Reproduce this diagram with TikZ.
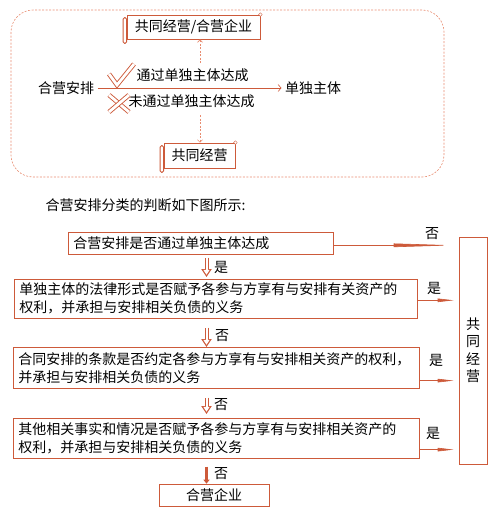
\documentclass[tikz,border=0pt]{standalone}
\usepackage{fontspec}
\setmainfont{Noto Sans CJK SC}
\usetikzlibrary{arrows.meta}
\definecolor{accent}{RGB}{205,90,58}
\definecolor{softacc}{RGB}{232,140,112}
\tikzset{
  qbox/.style={draw=accent, semithick, anchor=north west, align=left, inner xsep=5pt, inner ysep=0pt},
  scroll/.style={draw=accent, thick, fill=white, inner sep=3pt},
  dasharrow/.style={draw=softacc, semithick, dash pattern=on 2pt off 1.5pt, -{Straight Barb[length=2.5pt,width=5pt]}},
  checkline/.style={draw=accent, line width=0.9pt, double=white, double distance=2.8pt},
  hollowdown/.style 2 args={draw=accent, line width=4pt, shorten <=#1, shorten >=#2, -{Triangle[length=8pt,width=10pt]},
    postaction={draw=white, line width=2pt, shorten <=#1, shorten >=#2+2.2pt, -{Triangle[length=5pt,width=6pt]}}},
  toright/.style={draw=accent, semithick, shorten >=5pt, -{Triangle[length=#1,width=3.5pt]}},
  toright/.default=16pt,
}
\begin{document}
\begin{tikzpicture}[x=1pt, y=-1pt, font=\fontsize{14}{18}\selectfont]
\useasboundingbox (0,0) rectangle (497,512);
% upper sketch
\draw[softacc, semithick, dash pattern=on 2pt off 1.5pt, rounded corners=22pt] (11,10) rectangle (444,177);
\node[scroll, minimum width=133pt, minimum height=24pt] (sJV) at (193.5,27) {共同经营/合营企业};
\node[scroll, minimum width=71pt, minimum height=25pt] (sJO) at (199.5,155.5) {共同经营};
\draw[accent, thick, fill=white, rounded corners=1.5pt] ([xshift=-3.5pt,yshift=-3pt]sJV.north west) rectangle ([yshift=-4pt]sJV.south west);
\draw[accent, fill=white] (sJV.north east) circle (1.8pt);
\draw[accent, thick, fill=white, rounded corners=1.5pt] ([xshift=-3.5pt,yshift=-3pt]sJO.north west) rectangle ([yshift=-4pt]sJO.south west);
\draw[accent, fill=white] (sJO.north east) circle (1.8pt);
\node (jarr) at (66,88) {合营安排};
\node (sep) at (313,88) {单独主体};
\draw[accent, semithick, -{Straight Barb[length=3pt,width=7pt]}] (jarr) -- (sep);
\node (via) at (192.5,75) {通过单独主体达成};
\node (novia) at (191.5,101) {未通过单独主体达成};
\draw[checkline] (109,74) -- (117,85) -- (134,64);
\draw[checkline] (109,95) -- (129,112);
\draw[checkline] (129,95) -- (109,112);
\coordinate (up0) at (200,63);
\coordinate (dn0) at (200,115);
\draw[dasharrow] (up0) -- (up0 |- sJV.south);
\draw[dasharrow] (dn0) -- (dn0 |- sJO.north);
% decision chart
\node[anchor=west] (cap) at (42,205) {合营安排分类的判断如下图所示:};
\node[qbox, text width=255pt, minimum height=22pt] (q1) at (68,232) {合营安排是否通过单独主体达成};
\node[qbox, text width=393pt, minimum height=39pt] (q2) at (14,279) {单独主体的法律形式是否赋予各参与方享有与安排有关资产的\\权利，并承担与安排相关负债的义务};
\node[qbox, text width=396pt, minimum height=41pt] (q3) at (13,347) {合同安排的条款是否约定各参与方享有与安排相关资产的权利，\\并承担与安排相关负债的义务};
\node[qbox, text width=396pt, minimum height=40pt] (q4) at (13,418) {其他相关事实和情况是否赋予各参与方享有与安排相关资产的\\权利，并承担与安排相关负债的义务};
\node[draw=accent, semithick, minimum width=110pt, minimum height=22pt, inner sep=0pt] (jv) at (214,495) {合营企业};
\node[draw=accent, semithick, minimum width=28pt, minimum height=227pt, inner sep=0pt, align=center, font=\fontsize{14}{17.5}\selectfont] (jo) at (473,350.5) {共\\同\\经\\营};
\coordinate (col) at (206.5,0);
\draw[hollowdown={3pt}{2pt}] (q1.south -| col) -- (q2.north -| col);
\draw[hollowdown={9pt}{0pt}] (q2.south -| col) -- (q3.north -| col);
\draw[hollowdown={9pt}{4pt}] (q3.south -| col) -- (q4.north -| col);
\draw[accent, line width=2.4pt, shorten <=8pt, -{Triangle[length=4pt,width=6pt]}] (q4.south -| col) -- (jv.north -| col);
\node (y1) at (221,267) {是};
\node (n2) at (222,336) {否};
\node (n3) at (221,405) {否};
\node (n4) at (221,474) {否};
\draw[toright=60pt] ([yshift=-2pt]q1.east) -- ([yshift=-2pt]q1.east -| jo.west);
\draw[toright] ([yshift=-1.5pt]q2.east) -- ([yshift=-1.5pt]q2.east -| jo.west);
\draw[toright] ([yshift=8pt]q3.south east) -- ([yshift=8pt]q3.south east -| jo.west);
\draw[toright] ([yshift=9pt]q4.south east) -- ([yshift=9pt]q4.south east -| jo.west);
\node (n1) at (432,234) {否};
\node (y2) at (434,288) {是};
\node (y3) at (436,360) {是};
\node (y4) at (433,433) {是};
\end{tikzpicture}
\end{document}
